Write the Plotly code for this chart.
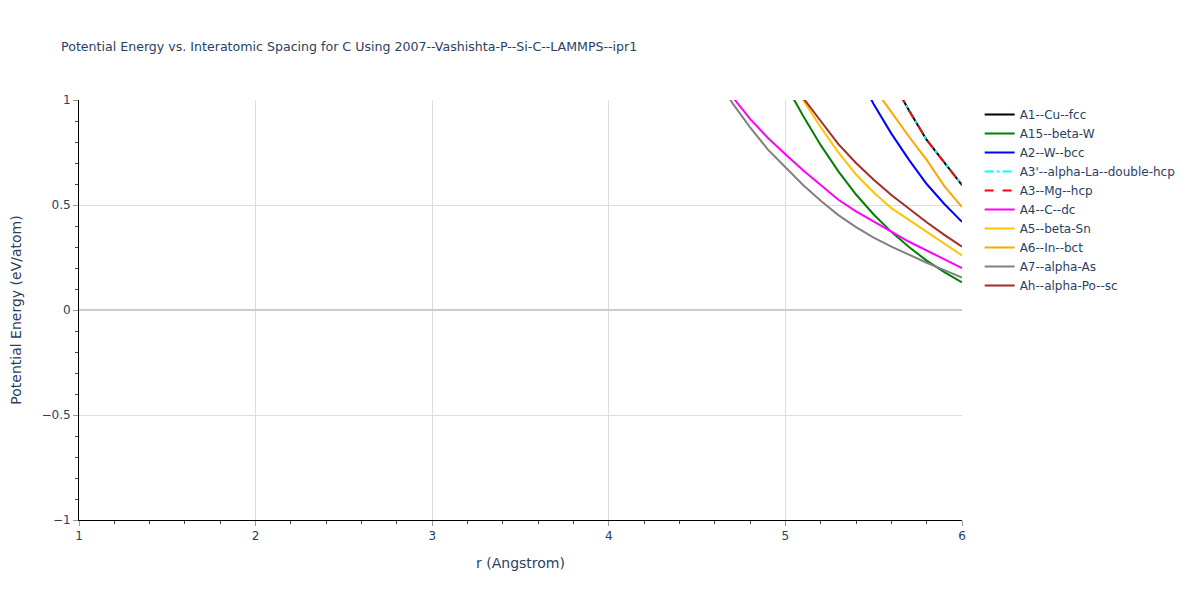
import plotly.graph_objects as go

title = "Potential Energy vs. Interatomic Spacing for C Using 2007--Vashishta-P--Si-C--LAMMPS--ipr1"

# r values (Angstrom) and energies (eV/atom)
r_gray = [4.6, 4.7, 4.8, 4.9, 5.0, 5.1, 5.2, 5.3, 5.4, 5.5, 5.6, 5.7, 5.8, 5.9, 6.0]
e_A7 = [1.12, 0.985, 0.87, 0.765, 0.68, 0.595, 0.52, 0.452, 0.395, 0.345, 0.302, 0.262, 0.225, 0.19, 0.154]

r_mag = [4.6, 4.7, 4.8, 4.9, 5.0, 5.1, 5.2, 5.3, 5.4, 5.5, 5.6, 5.7, 5.8, 5.9, 6.0]
e_A4 = [1.14, 1.015, 0.91, 0.82, 0.742, 0.665, 0.595, 0.525, 0.47, 0.42, 0.373, 0.325, 0.282, 0.24, 0.2]

r_green = [4.9, 5.0, 5.1, 5.2, 5.3, 5.4, 5.5, 5.6, 5.7, 5.8, 5.9, 6.0]
e_A15 = [1.25, 1.075, 0.925, 0.785, 0.66, 0.55, 0.455, 0.372, 0.3, 0.235, 0.18, 0.132]

r_yellow = [5.0, 5.1, 5.2, 5.3, 5.4, 5.5, 5.6, 5.7, 5.8, 5.9, 6.0]
e_A5 = [1.12, 1.0, 0.87, 0.75, 0.645, 0.56, 0.485, 0.428, 0.37, 0.315, 0.26]

r_brown = [5.0, 5.1, 5.2, 5.3, 5.4, 5.5, 5.6, 5.7, 5.8, 5.9, 6.0]
e_Ah = [1.14, 1.01, 0.9, 0.79, 0.7, 0.62, 0.548, 0.482, 0.418, 0.358, 0.302]

r_blue = [5.4, 5.5, 5.6, 5.7, 5.8, 5.9, 6.0]
e_A2 = [1.14, 0.98, 0.84, 0.715, 0.6, 0.505, 0.42]

r_orange = [5.5, 5.6, 5.7, 5.8, 5.9, 6.0]
e_A6 = [1.06, 0.94, 0.825, 0.715, 0.59, 0.49]

r_top = [5.6, 5.7, 5.8, 5.9, 6.0]
e_A1 = [1.1, 0.95, 0.81, 0.7, 0.595]
e_A3p = [1.1, 0.95, 0.81, 0.7, 0.595]
e_A3 = [1.1, 0.95, 0.81, 0.7, 0.595]

series = [
    ("A1--Cu--fcc", r_top, e_A1, "black", "solid"),
    ("A15--beta-W", r_green, e_A15, "green", "solid"),
    ("A2--W--bcc", r_blue, e_A2, "blue", "solid"),
    ("A3'--alpha-La--double-hcp", r_top, e_A3p, "cyan", "dashdot"),
    ("A3--Mg--hcp", r_top, e_A3, "red", "dash"),
    ("A4--C--dc", r_mag, e_A4, "magenta", "solid"),
    ("A5--beta-Sn", r_yellow, e_A5, "#FFC400", "solid"),
    ("A6--In--bct", r_orange, e_A6, "orange", "solid"),
    ("A7--alpha-As", r_gray, e_A7, "gray", "solid"),
    ("Ah--alpha-Po--sc", r_brown, e_Ah, "brown", "solid"),
]

fig = go.Figure()
for name, xs, ys, color, dash in series:
    fig.add_trace(go.Scatter(x=xs, y=ys, mode="lines", name=name,
                             line=dict(color=color, dash=dash, width=2)))

FONT = "DejaVu Sans"
fig.update_layout(
    width=1200, height=600,
    template="plotly_white",
    font=dict(family=FONT, color="#2a3f5f"),
    title=dict(text=title, x=0.0442, xanchor="left", y=0.943, font=dict(family=FONT, size=12.6, color="#2a3f5f")),
    margin=dict(l=71, r=246, t=92, b=88),
    legend=dict(x=1.02, y=1, xanchor="left", yanchor="top", font=dict(family=FONT, size=12)),
    plot_bgcolor="white",
)
fig.update_xaxes(
    title_text="r (Angstrom)", range=[1, 6], dtick=1, automargin=False,
    showline=True, linecolor="black", linewidth=1,
    ticks="outside", tickcolor="#999", ticklen=5,
    minor=dict(ticks="outside", dtick=0.2, ticklen=3, tickcolor="#444"),
    showgrid=True, gridcolor="#dddddd", zeroline=False,
)
fig.update_yaxes(
    title_text="Potential Energy (eV/atom)", range=[-1, 1], dtick=0.5, automargin=False,
    title_standoff=18,
    showline=True, linecolor="black", linewidth=1,
    ticks="outside", tickcolor="#999", ticklen=5,
    minor=dict(ticks="outside", dtick=0.1, ticklen=3, tickcolor="#444"),
    showgrid=True, gridcolor="#dddddd",
    zeroline=True, zerolinecolor="#cccccc", zerolinewidth=2,
)

fig.write_html("out.html")
